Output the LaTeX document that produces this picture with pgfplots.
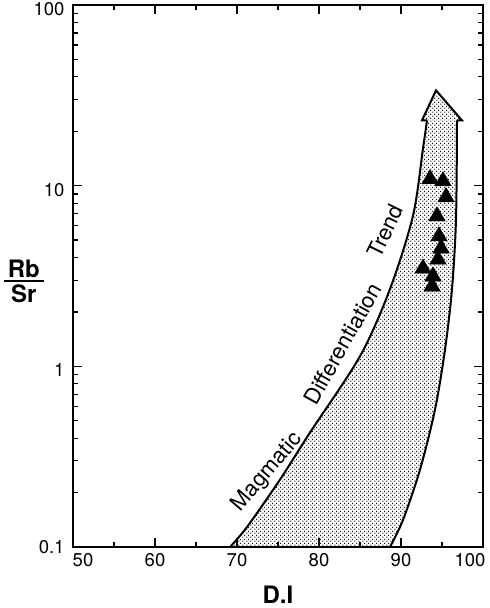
\documentclass[border=0pt]{standalone}
\usepackage{fontspec}
\setmainfont{TeX Gyre Heros}
\usepackage{amsmath}
\usepackage{pgfplots}
\pgfplotsset{compat=1.18}
\usepgfplotslibrary{fillbetween}
\usetikzlibrary{patterns}
\pgfdeclarepatternformonly{stipple}{\pgfqpoint{0pt}{0pt}}{\pgfqpoint{4.2pt}{4.2pt}}{\pgfqpoint{4.2pt}{4.2pt}}{%
  \pgfpathcircle{\pgfqpoint{1.05pt}{1.05pt}}{0.8pt}%
  \pgfpathcircle{\pgfqpoint{3.15pt}{3.15pt}}{0.8pt}%
  \pgfusepath{fill}}
\begin{document}
\begin{tikzpicture}
\begin{axis}[
  scale only axis, width=410pt, height=542pt,
  xmin=50, xmax=100, ymode=log, ymin=0.1, ymax=100,
  xtick={50,60,70,80,90,100}, minor xtick={55,65,75,85,95},
  xticklabels={\kern20pt 50,60,70,80,90,100\kern26pt},
  ytick={0.1,1,10,100}, yticklabels={\raisebox{8pt}{0.1},1,10,\raisebox{-5pt}{100}},
  minor ytick={0.2,0.3,0.4,0.5,0.6,0.7,0.8,0.9,2,3,4,5,6,7,8,9,20,30,40,50,60,70,80,90},
  major tick length=9pt, minor tick length=5pt,
  tick style={line width=1.2pt, black},
  axis line style={line width=1.6pt},
  tick label style={font=\fontsize{18.5}{22}\selectfont},
  yticklabel style={xshift=-5pt, yshift=-4pt},
  xticklabel style={yshift=-3pt},
  /pgf/number format/assume math mode=true,
  xlabel={\textbf{D.I}},
  xlabel style={font=\fontsize{24}{27}\selectfont, at={(axis description cs:0.5,0)}, anchor=center, yshift=-48pt},
  ylabel={\(\genfrac{}{}{2.4pt}{1}{\mbox{\,\bfseries Rb\,}}{\mbox{\bfseries Sr}}\)},
  ylabel style={font=\fontsize{24}{27}\selectfont, rotate=-90, at={(axis description cs:-0.12,0.49)}, anchor=center},
]
\addplot[name path=L, draw=none, smooth] coordinates {
  (69.15,0.1) (71.22,0.129) (75.24,0.236) (78.9,0.430) (85.0,1.137)
  (88.66,2.68) (91.46,6.81) (92.68,16.05) (93.17,22.96)};
\addplot[name path=R, draw=none, smooth] coordinates {
  (88.66,0.1) (90.24,0.141) (92.32,0.268) (94.15,0.577) (95.37,1.24)
  (96.22,2.68) (96.71,6.56) (96.83,22.96)};
\addplot[pattern=stipple, draw=none] fill between[of=L and R];
\addplot[pattern=stipple, draw=none] coordinates {
  (93.17,22.96) (92.56,22.96) (94.27,33.7) (97.44,22.96) (96.83,22.96)} -- cycle;
\addplot[black, line width=2pt, smooth] coordinates {
  (69.15,0.1) (71.22,0.129) (75.24,0.236) (78.9,0.430) (85.0,1.137)
  (88.66,2.68) (91.46,6.81) (92.68,16.05) (93.17,22.96)};
\addplot[black, line width=2pt, smooth] coordinates {
  (88.66,0.1) (90.24,0.141) (92.32,0.268) (94.15,0.577) (95.37,1.24)
  (96.22,2.68) (96.71,6.56) (96.83,22.96)};
\addplot[black, line width=2pt, line join=miter] coordinates {
  (93.17,22.96) (92.56,22.96) (94.27,33.7) (97.44,22.96) (96.83,22.96)};
\addplot[only marks, mark=triangle*, mark size=9.5pt, black] coordinates {
  (93.54,10.88) (95.12,10.6) (95.49,8.64) (94.39,6.78) (94.63,5.25)
  (94.88,4.50) (94.51,3.91) (92.68,3.48) (93.90,3.15) (93.78,2.77)};
\node[xshift=-3pt, yshift=2.6pt, rotate=49.5, font=\fontsize{22}{26}\selectfont] at (axis cs:74.1,0.251) {Magmatic};
\node[xshift=-3.5pt, yshift=2pt, rotate=60.7, font=\fontsize{22}{26}\selectfont] at (axis cs:83.3,1.30) {Differentiation};
\node[xshift=-3.6pt, yshift=1.8pt, rotate=64, font=\fontsize{22}{26}\selectfont] at (axis cs:88.5,5.5) {Trend};
\end{axis}
\pgfresetboundingbox
\path[use as bounding box] ([shift={(-73pt,-61pt)}]current axis.south west) rectangle ([shift={(6pt,5pt)}]current axis.north east);
\end{tikzpicture}
\end{document}
